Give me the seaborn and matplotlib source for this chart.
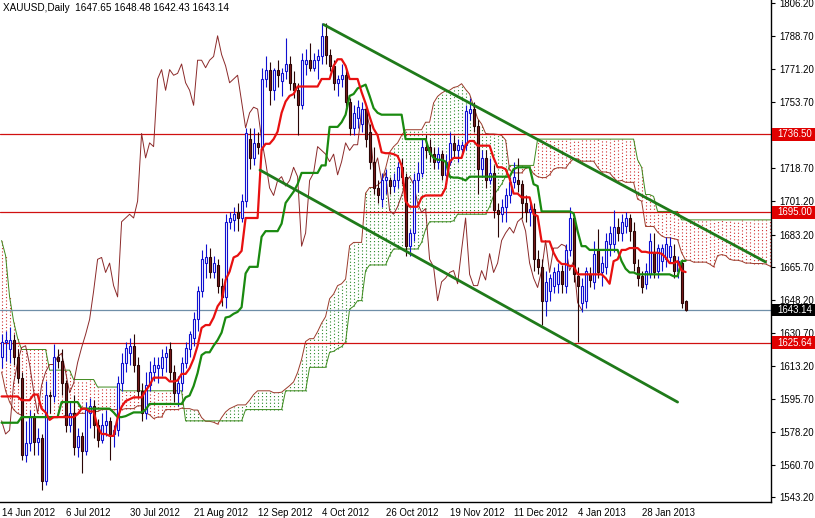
import numpy as np
import pandas as pd
import matplotlib
matplotlib.use("Agg")
import matplotlib.pyplot as plt
import matplotlib.transforms as mtrans
from matplotlib.patches import Rectangle
import seaborn as sns

sns.set_style("white")
plt.rcParams['font.family'] = ['Liberation Sans', 'DejaVu Sans']

# ---------------- data ----------------
opens = [1618,1626,1622,1627,1618,1607,1566,1572,1586,1573,1575,1552,1598,1597,1618,1616,1604,1582,1588,1570,
         1576,1568,1588,1592,1582,1574,1582,1584,1577,1579,1604,1615,1620,1624,1614,1600,1588,1603,1610,1612,
         1612,1618,1622,1610,1599,1604,1615,1622,1628,1638,1653,1668,1671,1663,1667,1656,1650,1690,1691,1695,
         1692,1701,1734,1724,1732,1730,1766,1771,1760,1771,1765,1770,1774,1764,1760,1752,1774,1776,1772,1776,
         1778,1789,1779,1773,1764,1766,1768,1754,1740,1745,1742,1750,1738,1722,1708,1702,1712,1712,1709,1712,
         1719,1714,1677,1684,1712,1716,1730,1730,1726,1722,1726,1715,1722,1732,1728,1729,1731,1748,1750,1741,
         1718,1724,1712,1716,1696,1694,1698,1704,1711,1712,1710,1700,1695,1697,1670,1666,1648,1653,1656,1657,
         1664,1656,1675,1692,1661,1647,1648,1662,1658,1675,1663,1666,1678,1678,1687,1684,1688,1692,1685,1666,
         1661,1657,1662,1674,1664,1669,1670,1671,1672,1664,1668,1647.65]
highs = [1630,1632,1634,1630,1622,1610,1584,1590,1588,1580,1577,1605,1600,1625,1622,1622,1606,1594,1598,1580,
         1578,1594,1596,1595,1585,1588,1590,1586,1582,1608,1620,1626,1628,1630,1618,1604,1610,1616,1618,1618,
         1622,1624,1626,1614,1608,1618,1626,1632,1642,1656,1675,1678,1676,1672,1670,1660,1694,1695,1698,1700,
         1705,1740,1740,1740,1738,1772,1778,1775,1772,1776,1772,1788,1778,1770,1764,1780,1782,1785,1780,1782,
         1796,1796,1782,1776,1768,1774,1772,1756,1752,1755,1754,1752,1742,1730,1712,1716,1718,1714,1716,1722,
         1724,1716,1686,1716,1722,1734,1736,1734,1730,1730,1728,1726,1738,1736,1734,1733,1752,1756,1754,1744,
         1728,1728,1724,1720,1700,1702,1708,1714,1722,1724,1712,1704,1700,1700,1675,1670,1664,1662,1666,1668,
         1667,1678,1698,1694,1666,1660,1666,1666,1680,1686,1672,1684,1688,1696,1692,1694,1695,1694,1690,1670,
         1664,1668,1684,1684,1678,1678,1682,1682,1678,1672,1670,1648.48]
lows = [1612,1616,1615,1614,1604,1563,1562,1568,1566,1566,1547,1550,1588,1594,1612,1598,1578,1578,1566,1565,
        1556,1566,1580,1575,1570,1572,1576,1563,1570,1576,1600,1610,1614,1610,1596,1584,1585,1600,1605,1604,
        1608,1610,1606,1594,1592,1600,1612,1618,1624,1632,1650,1660,1660,1660,1652,1645,1644,1686,1685,1685,
        1690,1698,1718,1720,1726,1728,1762,1752,1755,1762,1757,1766,1760,1756,1736,1750,1768,1770,1770,1766,
        1774,1774,1770,1760,1757,1762,1750,1736,1736,1740,1738,1730,1718,1705,1700,1698,1705,1705,1706,1708,
        1710,1672,1672,1680,1706,1714,1724,1722,1718,1718,1712,1710,1720,1724,1722,1726,1728,1744,1738,1705,
        1714,1708,1710,1692,1682,1690,1690,1700,1708,1706,1692,1690,1688,1664,1662,1635,1640,1648,1652,1652,
        1652,1652,1672,1658,1626,1642,1644,1655,1654,1660,1656,1662,1672,1674,1680,1680,1684,1680,1664,1656,
        1652,1654,1660,1660,1660,1664,1666,1668,1660,1660,1644,1642.43]
closes = [1626,1627,1627,1618,1607,1566,1572,1586,1573,1575,1552,1598,1597,1618,1616,1604,1582,1588,1570,1576,
          1568,1590,1592,1582,1574,1582,1584,1577,1579,1604,1615,1623,1624,1614,1600,1588,1603,1610,1614,1614,
          1618,1620,1610,1599,1604,1615,1623,1630,1638,1653,1670,1671,1663,1668,1656,1650,1690,1692,1694,1692,
          1701,1737,1724,1732,1730,1766,1771,1760,1771,1768,1769,1774,1764,1760,1752,1776,1776,1772,1776,1778,
          1789,1779,1773,1764,1766,1768,1754,1740,1748,1751,1750,1734,1722,1708,1704,1712,1714,1709,1712,1719,
          1714,1677,1684,1712,1716,1730,1728,1726,1722,1726,1715,1722,1732,1728,1731,1731,1749,1750,1741,1718,
          1724,1712,1716,1696,1694,1698,1704,1711,1714,1710,1700,1695,1697,1670,1666,1648,1658,1660,1663,1664,
          1657,1675,1692,1662,1656,1656,1664,1659,1673,1663,1668,1680,1684,1687,1684,1690,1692,1685,1668,1660,
          1655,1664,1680,1663,1676,1676,1678,1677,1664,1669,1647,1643.14]

# indicator values before enough history exists
tenkan_early = [1597, 1597, 1597, 1597, 1597, 1595, 1595, 1595]
kijun_early = [1583, 1583, 1583, 1583, 1583, 1586, 1586, 1586, 1586, 1586, 1586, 1586, 1586, 1586, 1586,
               1594, 1594, 1594, 1594, 1594, 1590.5, 1590.5, 1590.5, 1590.5, 1590.5]
span_a_early = [1610, 1600, 1594, 1590, 1588, 1587, 1586, 1586, 1586, 1586, 1586, 1586, 1586,
                1586, 1586, 1586, 1587, 1587, 1588, 1588, 1588, 1588, 1589, 1589, 1589, 1590]
span_b_early = ([1680, 1672, 1650, 1637, 1628] + [1622] * 7 + [1611] * 6 + [1606] * 6 + [1602] * 6
                + [1600] * 16 + [1584] * 15 + [1590] * 10 + [1600] * 6)

date_labels = ["14 Jun 2012", "6 Jul 2012", "30 Jul 2012", "21 Aug 2012", "12 Sep 2012", "4 Oct 2012",
               "26 Oct 2012", "19 Nov 2012", "11 Dec 2012", "4 Jan 2013", "28 Jan 2013"]
date_bars = [0, 16, 32, 48, 64, 80, 96, 112, 128, 144, 160]

price_ticks = [1806.20, 1788.70, 1771.20, 1753.70, 1718.70, 1701.20, 1683.20, 1665.70, 1648.20,
               1630.70, 1613.20, 1595.70, 1578.20, 1560.70, 1543.20]
red_levels = [1736.50, 1695.00, 1625.64]
last_price = 1643.14

upper_channel_bars = [80.5, 191.0]
upper_channel_prices = [1795.0, 1668.6]
lower_channel_bars = [64.6, 169.0]
lower_channel_prices = [1717.5, 1594.0]

title = "XAUUSD,Daily  1647.65 1648.48 1642.43 1643.14"

# ---------------- computations ----------------
n = len(closes)
df = pd.DataFrame({"bar": np.arange(n), "open": opens, "high": highs, "low": lows, "close": closes})
hi, lo = df["high"], df["low"]
tenkan = (hi.rolling(9).max() + lo.rolling(9).min()) / 2
tenkan.iloc[:len(tenkan_early)] = tenkan_early
kijun = (hi.rolling(26).max() + lo.rolling(26).min()) / 2
kijun.iloc[:len(kijun_early)] = kijun_early
shift = 26
total = n + shift
span_a = np.full(total, np.nan)
span_a[:shift] = span_a_early
span_a[shift:] = ((tenkan + kijun) / 2).values
span_b = np.full(total, np.nan)
span_b[shift:] = ((hi.rolling(52).max() + lo.rolling(52).min()) / 2).values
span_b[:len(span_b_early)] = span_b_early
cloud = pd.DataFrame({"bar": np.arange(total), "a": span_a, "b": span_b})

# ---------------- figure ----------------
W, H = 815, 518
fig = plt.figure(figsize=(W / 100, H / 100), dpi=100)
fig.patch.set_facecolor("white")
ax = fig.add_axes([0, 16 / H, 771 / W, 502 / H])
ax.set_facecolor("white")

ymin, ymax = 1540.8, 1808.06
ax.set_ylim(ymin, ymax)
ax.set_xlim(-0.4, 192.35)

# cloud: vertical dotted columns per bar
up = cloud[cloud.a >= cloud.b]
dn = cloud[cloud.a < cloud.b]
ax.vlines(up.bar, up.b, up.a, colors="#2a8a2a", linestyles=(0, (1, 2)), linewidth=0.8, zorder=1)
ax.vlines(dn.bar, dn.a, dn.b, colors="#d03030", linestyles=(0, (1, 2)), linewidth=0.8, zorder=1)
sns.lineplot(data=cloud, x="bar", y="a", ax=ax, color="#9a3b2b", linewidth=0.7, zorder=2)
sns.lineplot(data=cloud, x="bar", y="b", ax=ax, color="#3d8a1d", linewidth=0.7, zorder=2)

# horizontal levels
for lv in red_levels:
    ax.axhline(lv, color="#d01010", linewidth=0.9, zorder=2)
ax.axhline(last_price, color="#6f8fa8", linewidth=0.9, zorder=2)

# chikou span
chik = pd.DataFrame({"bar": df["bar"].values[:n - shift], "c": df["close"].values[shift:]})
sns.lineplot(data=chik, x="bar", y="c", ax=ax, color="#8b2a2a", linewidth=0.7, zorder=3)

# candles
upc = df[df.close >= df.open]
dnc = df[df.close < df.open]
ax.vlines(upc.bar, upc.low, upc.high, colors="#1010d0", linewidth=0.8, zorder=4)
ax.vlines(dnc.bar, dnc.low, dnc.high, colors="#2a0505", linewidth=0.8, zorder=4)
ax.bar(upc.bar, upc.close - upc.open, bottom=upc.open, width=0.55, color="white",
       edgecolor="#1010d0", linewidth=0.8, zorder=5)
ax.bar(dnc.bar, dnc.open - dnc.close, bottom=dnc.close, width=0.55, color="#7a1c1c",
       edgecolor="#2a0505", linewidth=0.8, zorder=5)

# tenkan / kijun
ind = pd.DataFrame({"bar": df["bar"], "tenkan": tenkan, "kijun": kijun})
sns.lineplot(data=ind, x="bar", y="kijun", ax=ax, color="#1a8a10", linewidth=1.6, zorder=6)
sns.lineplot(data=ind, x="bar", y="tenkan", ax=ax, color="#e81010", linewidth=1.6, zorder=7)

# channel lines
ax.plot(upper_channel_bars, upper_channel_prices, color="#1f7a1a", linewidth=2.0, zorder=8)
ax.plot(lower_channel_bars, lower_channel_prices, color="#1f7a1a", linewidth=2.0, zorder=8)

# axes styling
for s in ["left", "top"]:
    ax.spines[s].set_visible(False)
for s in ["right", "bottom"]:
    ax.spines[s].set_color("black")
    ax.spines[s].set_linewidth(1.0)
ax.set_xlabel("")
ax.set_ylabel("")
ax.yaxis.tick_right()
ax.set_yticks(price_ticks)
ax.set_yticklabels([f"{v:.2f}" for v in price_ticks])
ax.set_xticks(date_bars)
ax.set_xticklabels(date_labels, ha="left")
ax.tick_params(axis="y", direction="out", length=3, width=0.8, pad=3, labelsize=6.9, colors="black")
ax.tick_params(axis="x", direction="out", length=3, width=0.8, pad=1, labelsize=6.9, colors="black")
ax.grid(False)

# highlighted price labels on right axis
trans = mtrans.blended_transform_factory(ax.transAxes, ax.transData)
ppx = (ymax - ymin) / 502.0
boxes = [(v, "#e00000") for v in red_levels] + [(last_price, "black")]
for v, c in boxes:
    ax.add_patch(Rectangle((1.0015, v - 6.2 * ppx), 44 / 771, 12.4 * ppx, transform=trans,
                           facecolor=c, edgecolor="none", clip_on=False, zorder=10))
    ax.text(1.0015 + 5 / 771, v, f"{v:.2f}", transform=trans, color="white", fontsize=6.9,
            va="center", ha="left", clip_on=False, zorder=11)

fig.text(3 / W, 1 - 8 / H, title, fontsize=7.2, va="center", ha="left", color="black")

fig.savefig("out.png", dpi=100, facecolor="white")
